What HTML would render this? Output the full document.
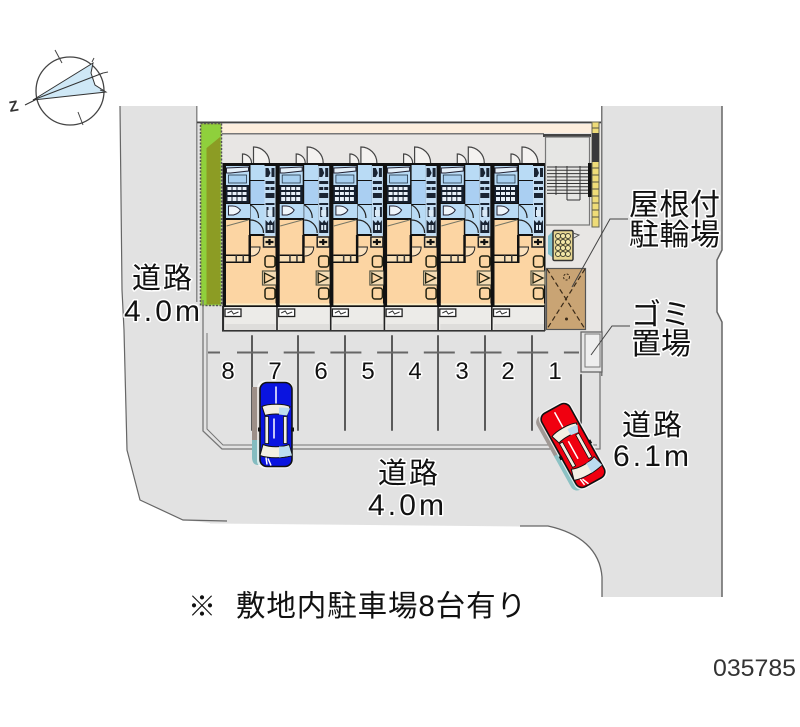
<!DOCTYPE html>
<html><head><meta charset="utf-8"><style>
html,body{margin:0;padding:0;background:#fff}
svg{display:block}
.t{font-family:"Liberation Sans","Noto Sans CJK JP",sans-serif;fill:#111;stroke:#fff;stroke-width:3px;paint-order:stroke;stroke-linejoin:round}
</style></head><body>
<svg width="800" height="727" viewBox="0 0 800 727" xmlns="http://www.w3.org/2000/svg">
<defs>
<g id="unit">
<rect x="0" y="0" width="54.500" height="144" fill="#111"/>
<!-- blue: bath -->
<rect x="3.500" y="3" width="23" height="19" fill="#b9dbf5"/>
<path d="M4 5L26 4V8L8 10H4Z" fill="#e6f1fa" stroke="#223" stroke-width="1"/>
<rect x="6" y="12" width="18" height="8" fill="#a8d0f0" stroke="#234" stroke-width=".8"/>
<!-- kitchen -->
<rect x="3.500" y="22" width="23" height="18" fill="#16202e"/>
<g fill="#e8f0f8"><rect x="5" y="24" width="4" height="3"/><rect x="10" y="24" width="4" height="3"/><rect x="15" y="24" width="4" height="3"/><rect x="20" y="24" width="4" height="3"/><rect x="5" y="29" width="4" height="3"/><rect x="10" y="29" width="4" height="3"/><rect x="15" y="29" width="4" height="3"/><rect x="20" y="29" width="4" height="3"/><rect x="5" y="34" width="4" height="4"/><rect x="10" y="34" width="4" height="4"/><rect x="15" y="34" width="4" height="4"/><rect x="20" y="34" width="4" height="4"/></g>
<!-- toilet/wash -->
<rect x="3.500" y="41" width="24" height="14" fill="#b9dbf5"/>
<path d="M6 43v9h5c4-1 6-3 7-5-2-2-4-4-8-4z" fill="#eef5fb" stroke="#223" stroke-width="1"/>
<!-- corridor -->
<rect x="28" y="2" width="14" height="15" fill="#b9dbf5"/>
<rect x="28" y="18" width="14" height="23" fill="#aacff2"/>
<rect x="28" y="42" width="14" height="29" fill="#b9dbf5"/>
<path d="M28 42a14 14 0 0 1 8 13M28 57a13 13 0 0 1 13 13" fill="none" stroke="#222" stroke-width="1.200"/>
<!-- right column -->
<rect x="42" y="3" width="11" height="70" fill="#c4def4"/>
<g fill="#1a2433"><path d="M43 5h3l2 5-2 4h-3zM49 5h3v9h-3z"/><rect x="43" y="18" width="9" height="3"/><rect x="43" y="24" width="4" height="3"/><rect x="48" y="24" width="4" height="3"/><rect x="43" y="30" width="9" height="5"/><rect x="43" y="40" width="9" height="2"/><rect x="44" y="44" width="2" height="10"/><rect x="50" y="44" width="2" height="10"/><path d="M43 57l3 3 2-3 2 3 2-3v13h-9z"/></g>
<g fill="#dcebf7"><rect x="45" y="47" width="5" height="6"/><rect x="45" y="62" width="2" height="5"/><rect x="48" y="62" width="2" height="5"/></g>
<!-- orange rooms -->
<rect x="3.500" y="57" width="23" height="35" fill="#fcd5a3"/>
<path d="M4 63L26 57" stroke="#776" stroke-width="1"/>
<rect x="3.500" y="92" width="23" height="7" fill="#f8dfb6"/>
<rect x="3.500" y="91.500" width="24" height="1.500" fill="#111"/><rect x="3.500" y="98.500" width="24" height="1.500" fill="#111"/>
<rect x="13" y="92" width="1.500" height="7" fill="#333"/><rect x="20" y="92" width="1.500" height="7" fill="#333"/>
<rect x="26" y="72" width="2.500" height="27" fill="#111"/>
<rect x="28.500" y="73" width="24.500" height="68" fill="#fcd5a3"/>
<rect x="3.500" y="100" width="49.500" height="41" fill="#fcd5a3"/>
<path d="M28.500 93c6 0 9-4 9-9H28.500" fill="#fbe1bd" stroke="#222" stroke-width="1"/>
<rect x="41" y="74" width="12" height="10" fill="#f8dfb6" stroke="#222" stroke-width="1.500"/>
<path d="M43 79h8M47 76v6" stroke="#111" stroke-width="2.200"/>
<!-- furniture -->
<rect x="42.500" y="93" width="10" height="11" rx="2.500" fill="#fcd5a3" stroke="#221" stroke-width="1.500"/>
<rect x="40" y="108" width="14" height="14" fill="#f5dcb4" stroke="#554" stroke-width="1.200"/>
<path d="M42 110v10l10-5z" fill="#fcd5a3" stroke="#221" stroke-width="1.300"/>
<rect x="42.500" y="125" width="10" height="11" rx="2.500" fill="#fcd5a3" stroke="#221" stroke-width="1.500"/>
<rect x="3.500" y="140.500" width="50" height="1.800" fill="#fbeec8"/>
<!-- doors top -->
<path d="M31 0v-16a16 16 0 0 1 16 16" fill="#f4f2f0" stroke="#444" stroke-width="1.200"/>
<path d="M20 0v-9a9 9 0 0 1 9 9" fill="#f4f2f0" stroke="#444" stroke-width="1.200"/>
<!-- balcony -->
<rect x="0" y="144" width="54.500" height="23" fill="#ecebe8"/>
<rect x="2.500" y="146" width="16" height="7.500" fill="#fff" stroke="#222" stroke-width="1.300"/>
<path d="M5 150l4-2 2 3 5-2" stroke="#333" stroke-width="1" fill="none"/>
<rect x="0" y="144" width="1.600" height="23" fill="#222"/>
<rect x="3" y="161" width="50" height="6" fill="#dedddb"/>
</g>
<g id="car">
<rect x="-16" y="-42" width="32" height="84" rx="7" fill="var(--c)" stroke="#111" stroke-width="1.600"/>
<path d="M-14 -18c6-3 22-3 28 0l-3 9c-6-2-16-2-22 0z" fill="#f3efe2" stroke="#111" stroke-width="1"/>
<path d="M-13 20c7 3 19 3 26 0l3 11c-8 3-24 3-32 0z" fill="#f3efe2" stroke="#111" stroke-width="1"/>
<path d="M3-17c4 0 8 0 11 1l-3 7-8-1zM3 22c4 0 8 0 10-1l3 10-13 2z" fill="#bcdcf0"/>
<rect x="-11" y="-8" width="3.500" height="27" fill="#f3efe2" stroke="#111" stroke-width=".8"/>
<rect x="7.500" y="-8" width="3.500" height="27" fill="#f3efe2" stroke="#111" stroke-width=".8"/>
<path d="M0-38v17M-2-6L-2 14" stroke="#fff" stroke-width="1.500" fill="none"/>
<path d="M-8 34l3 7M-10 33l1 7" stroke="#fff" stroke-width="1.500"/>
<rect x="-18" y="3" width="3" height="4" fill="#111"/><rect x="15" y="3" width="3" height="4" fill="#111"/>
</g>
</defs>

<!-- roads -->
<path d="M120 106H197V122H601V106H722V250L717 260V312L722 322V597H602V577C600 550 580 533 548 526L210 523L183 520L140 500L127 450L124 330L122 290Z" fill="#e2e2e2"/>
<path d="M722 106V250L717 260V312L722 322V597" fill="none" stroke="#666" stroke-width="1.500"/>
<path d="M602 597V577C600 550 580 533 548 526L520 526" fill="none" stroke="#666" stroke-width="1.300"/>
<path d="M520 526L210 523M183 520L140 500L127 450L124 330" fill="none" stroke="#e2e2e2" stroke-width="1"/>
<path d="M227 521L183 520L140 500L127 450L124 330L122 290L120 106" fill="none" stroke="#666" stroke-width="1.200"/>
<rect x="601" y="106" width="1.500" height="270" fill="#777"/>
<rect x="196" y="106" width="1.500" height="196" fill="#8a8a8a"/>

<!-- site -->
<rect x="222" y="122" width="379" height="209" fill="#e8e6e4"/>
<rect x="197" y="121.500" width="404" height="1.800" fill="#444"/>
<rect x="222" y="124" width="370" height="9" fill="#fdeedd"/>
<rect x="222" y="133" width="322" height="1.500" fill="#777"/>
<rect x="543" y="134" width="48" height="3" fill="#444"/>

<!-- green strip -->
<rect x="200.500" y="123.500" width="21" height="182" fill="#92c23a" stroke="#555" stroke-width="1.500" stroke-dasharray="2 1.500"/>
<path d="M206.500 148L220 137V304H206.500Z" fill="#8c9c24"/>
<path d="M202 125H220V137L206.500 148V304H202Z" fill="#8fd03c"/>

<!-- units -->
<use href="#unit" x="222.500" y="163"/>
<use href="#unit" x="276.200" y="163"/>
<use href="#unit" x="329.900" y="163"/>
<use href="#unit" x="383.600" y="163"/>
<use href="#unit" x="437.300" y="163"/>
<use href="#unit" x="491" y="163"/>
<rect x="222" y="330" width="323" height="1.600" fill="#333"/>
<rect x="222" y="306" width="1.500" height="25" fill="#333"/>
<rect x="544" y="306" width="1.600" height="25" fill="#333"/>

<!-- stairs area -->
<rect x="545.500" y="137" width="44" height="88" fill="#e6e6e4" stroke="#777" stroke-width="1.200"/>
<g stroke="#333" stroke-width="1" fill="none"><path d="M547 167H588M547 170.300H588M547 173.600H588M547 176.900H588M547 180.200H588M547 183.500H588M547 186.800H588M547 190.100H588M547 193.400H588"/><path d="M556 166V195M567 166V200M580 166V200M567 200H580"/></g>
<rect x="588" y="163" width="4" height="34" fill="#111"/>
<rect x="592" y="122" width="7" height="105" fill="#efdc78" stroke="#665" stroke-width="1"/>
<rect x="592" y="133" width="7" height="29" fill="#3a3a3a"/>
<g stroke="#554" stroke-width="1"><path d="M592 128H599M592 168H599M592 175H599M592 182H599M592 189H599M592 196H599M592 203H599M592 210H599M592 217H599"/></g>

<!-- bike icon -->
<path d="M552 232L553 231V257H552L548 254V236Z" fill="#7fc0cc"/>
<rect x="553" y="230.500" width="20" height="30" rx="1.500" fill="#e8d792" stroke="#333" stroke-width="1.500"/>
<g fill="#f3e7a8" stroke="#443" stroke-width="1"><circle cx="558" cy="236" r="2.500"/><circle cx="563" cy="236" r="2.500"/><circle cx="568" cy="236" r="2.500"/><circle cx="558" cy="242" r="2.500"/><circle cx="563" cy="242" r="2.500"/><circle cx="568" cy="242" r="2.500"/><circle cx="558" cy="248" r="2.500"/><circle cx="563" cy="248" r="2.500"/><circle cx="568" cy="248" r="2.500"/><circle cx="558" cy="254" r="2.500"/><circle cx="563" cy="254" r="2.500"/><circle cx="568" cy="254" r="2.500"/></g>
<path d="M573 233L579 235 574 238" stroke="#555" fill="none"/>

<!-- roofed bike parking -->
<rect x="546.500" y="268.500" width="39" height="61" fill="#c9a474" stroke="#555" stroke-width="1.200"/>
<path d="M547 269L585 329M585 269L547 329" stroke="#3a2a18" stroke-width="1.200" stroke-dasharray="5 3"/>
<circle cx="566.500" cy="277" r="3" fill="none" stroke="#3a2a18" stroke-dasharray="2 1.500"/>
<circle cx="566.500" cy="319" r="1.500" fill="#3a2a18"/>
<path d="M628 219H610L572 287" fill="none" stroke="#444" stroke-width="1"/>

<!-- parking lines -->
<g stroke="#5a5a5a" stroke-width="2" fill="none" stroke-linecap="round">
<path d="M252 336V430M298 336V430M345 336V430M392 336V430M438 336V430M485 336V430M532 336V430M581 375V423"/>
</g>
<path d="M208 352.500H220M237 352.500H579" stroke="#666" stroke-width="2" stroke-dasharray="31 15.700" fill="none"/>
<path d="M208 352.500H220" stroke="#666" stroke-width="2" fill="none"/>

<!-- outer lot line -->
<path d="M203 300V431L222 449H600V370" fill="none" stroke="#777" stroke-width="1.300"/>
<path d="M207 333V429L223 445H597" fill="none" stroke="#777" stroke-width="1"/>

<!-- gomi box -->
<rect x="581" y="332" width="21" height="40" fill="#e6e6e6" stroke="#666" stroke-width="1.300"/>
<rect x="585" y="334" width="15" height="33" fill="#eee" stroke="#777" stroke-width="1"/>
<path d="M630 326H612L591 355" fill="none" stroke="#444" stroke-width="1"/>

<!-- cars -->
<rect x="252" y="387" width="18" height="53" fill="#9d8f88"/>
<path d="M252 440h18v25h-12c-4 0-6-3-6-8z" fill="#84bcc0"/>
<g transform="translate(276 424.500)" style="--c:#0a14e0"><rect x="-19" y="-44" width="36" height="88" rx="8" fill="#fff" opacity=".7"/><use href="#car"/></g>
<g transform="translate(568 448.500) rotate(-29)">
<rect x="-16" y="-42" width="32" height="50" rx="7" fill="#a09894"/>
<path d="M-16 0H16V35a7 7 0 0 1-7 7H-9a7 7 0 0 1-7-7z" fill="#8cc2c4"/>
</g>
<g transform="translate(573 445.500) rotate(-29)" style="--c:#f00010"><rect x="-18" y="-44" width="36" height="88" rx="8" fill="#fff" opacity=".7"/><use href="#car"/></g>

<!-- compass -->
<circle cx="70" cy="91" r="34" fill="#fff" stroke="#444" stroke-width="1.300"/>
<path d="M33 100L93 63L91 73L95 85L106 92Z" fill="#cfe8f6" stroke="#333" stroke-width="1"/>
<path d="M25 105L35 100M33 100L103 73" stroke="#333" stroke-width="1"/>
<path d="M55 50L62 63M78 112L83 125M92 62L94 58M103 73L108 72M100 90L106 92" stroke="#444" stroke-width="1"/>
<text x="9" y="111" font-family="Liberation Sans" font-size="15" font-weight="bold" fill="#333" transform="rotate(-10 15 106)">Z</text>

<!-- labels -->
<text class="t" x="132" y="288" font-size="29" textLength="60">道路</text>
<text class="t" x="124" y="321" font-size="30" textLength="76">4.0m</text>
<text class="t" x="378" y="483" font-size="29" textLength="60">道路</text>
<text class="t" x="368" y="515" font-size="30" textLength="76">4.0m</text>
<text class="t" x="622" y="435" font-size="29" textLength="60">道路</text>
<text class="t" x="613" y="466" font-size="30" textLength="76">6.1m</text>
<text class="t" x="629" y="215" font-size="30" textLength="91">屋根付</text>
<text class="t" x="629" y="245" font-size="30" textLength="91">駐輪場</text>
<text class="t" x="631" y="325" font-size="30" textLength="60">ゴミ</text>
<text class="t" x="631" y="354" font-size="30" textLength="60">置場</text>
<text class="t" x="228" y="379" font-size="24" text-anchor="middle">8</text>
<text class="t" x="275" y="379" font-size="24" text-anchor="middle">7</text>
<text class="t" x="321" y="379" font-size="24" text-anchor="middle">6</text>
<text class="t" x="368" y="379" font-size="24" text-anchor="middle">5</text>
<text class="t" x="415" y="379" font-size="24" text-anchor="middle">4</text>
<text class="t" x="462" y="379" font-size="24" text-anchor="middle">3</text>
<text class="t" x="508" y="379" font-size="24" text-anchor="middle">2</text>
<text class="t" x="555" y="379" font-size="24" text-anchor="middle">1</text>
<text class="t" x="188" y="616" font-size="28" style="stroke:none">※</text>
<text class="t" x="236" y="616" font-size="29.500" textLength="290" style="stroke:none">敷地内駐車場8台有り</text>
<text x="713" y="676" font-family="Liberation Sans" font-size="24" fill="#333" textLength="83" lengthAdjust="spacingAndGlyphs">035785</text>
</svg>
</body></html>
